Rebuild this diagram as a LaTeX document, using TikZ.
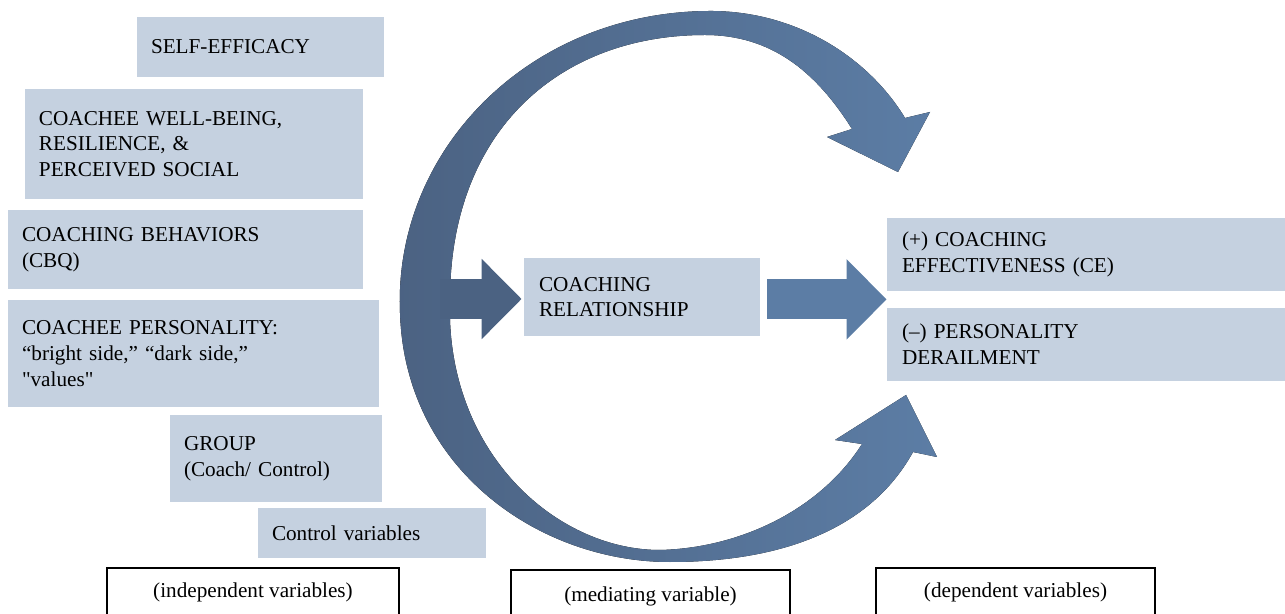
\documentclass[tikz,border=0pt]{standalone}
\usepackage{fontspec}
\setmainfont{Liberation Serif}
\newfontfamily\plainserif{Liberation Serif}
\usepackage{tikz}
\usetikzlibrary{positioning,arrows.meta,calc}

\definecolor{boxfill}{HTML}{C5D1E0}
\definecolor{arrowdark}{HTML}{4B6282}
\definecolor{arrowlight}{HTML}{5C7DA5}

\begin{document}
\begin{tikzpicture}[x=0.5pt,y=-0.5pt,font=\fontsize{10.6}{12.8}\selectfont,
                node distance=8pt]
        \tikzstyle{varbox}=[fill=boxfill,align=left,inner xsep=7pt,inner ysep=0pt]
        \tikzstyle{tagbox}=[draw=black,line width=0.8pt,fill=white,align=center,inner sep=0pt]
        \tikzstyle{blockarrow}=[line width=20pt,-{Triangle[length=20pt,width=39pt]}]

        \useasboundingbox (0,0) rectangle (1285,614);

        % the big C: upper and lower curved arrows in one piece
        \fill[left color=arrowdark,right color=arrowlight]
            (400,313) .. controls (393,150) and (530,10) .. (713,11)
            .. controls (800,12) and (870,60) .. (905,118)
            -- (930,112) -- (898,172) -- (827,137) -- (852,129)
            .. controls (815,70) and (770,35) .. (705,35)
            .. controls (560,35) and (450,130) .. (450,300)
            -- (450,320)
            .. controls (455,460) and (560,550) .. (660,550)
            .. controls (740,548) and (820,510) .. (862,444)
            -- (835,440) -- (906,395) -- (937,457) -- (913,452)
            .. controls (870,530) and (780,562) .. (670,562)
            .. controls (540,562) and (405,470) .. (400,313)
            -- cycle;

        % independent variables
        \node[varbox,text width=109.5pt,minimum height=30pt] (selfeff) at (260.5,47) {SELF-EFFICACY};
        \node[varbox,text width=155pt,minimum height=55pt] (wellbeing) at (194,144) {COACHEE WELL-BEING,\\RESILIENCE, \&\\PERCEIVED SOCIAL};
        \node[varbox,text width=163.5pt,minimum height=39.5pt] (behav) at (185.5,249.5) {COACHING BEHAVIORS\\(CBQ)};
        \node[varbox,text width=171.5pt,minimum height=53.5pt] (person) at (193.5,353.5) {COACHEE PERSONALITY:\\“bright side,” “dark side,”\\{\plainserif "values"}};
        \node[varbox,text width=92pt,minimum height=43.5pt] (group) at (276,458.5) {GROUP\\(Coach/ Control)};
        \node[varbox,text width=100pt,minimum height=25pt] (control) at (372,533) {Control variables};

        % mediator and outcomes
        \node[varbox,text width=103pt,minimum height=39pt,inner xsep=7.5pt] (rel) at (642,297) {COACHING\\RELATIONSHIP};
        \node[varbox,text width=184pt,minimum height=36.5pt,inner xsep=7.5pt] (effect) at (1086,254.5) {(+) COACHING\\EFFECTIVENESS (CE)};
        \node[varbox,text width=184pt,minimum height=36.5pt,inner xsep=7.5pt] (derail) [below=of effect] {(–) PERSONALITY\\DERAILMENT};

        % straight arrows
        \coordinate (arcmid) at (440,299);
        \coordinate (relout) at ([xshift=3.5pt]rel.east);
        \coordinate (outs) at ($(effect.south west)!0.5!(derail.north west)$);
        \draw[blockarrow,arrowdark] (arcmid) -- ([xshift=-1pt]arcmid -| rel.west);
        \draw[blockarrow,arrowlight] (relout |- outs) -- (outs);

        % column labels
        \node[tagbox,minimum width=146pt,minimum height=24pt] (indep) at (253,592) {(independent variables)};
        \node[tagbox,minimum width=139.5pt,minimum height=26pt] (mediat) at (650.5,596) {(mediating variable)};
        \node[tagbox,minimum width=139.5pt,minimum height=24pt] (depend) at (1015.5,592) {(dependent variables)};

\end{tikzpicture}
\end{document}
